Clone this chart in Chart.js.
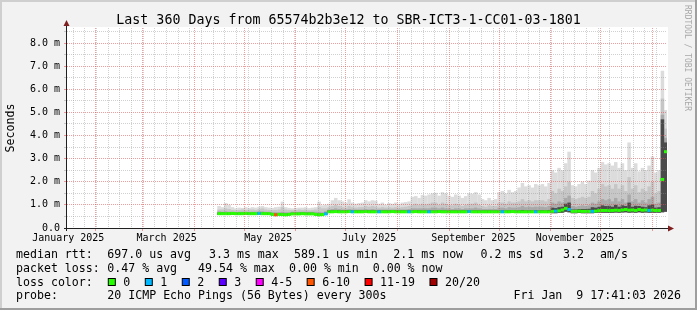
<!DOCTYPE html>
<html><head><meta charset="utf-8">
<script src="https://cdn.jsdelivr.net/npm/chart.js@4.4.1/dist/chart.umd.min.js"></script>
<style>html,body{margin:0;padding:0;background:#f2f2f2;}canvas{display:block;}</style>
</head><body>
<canvas id="c" width="697" height="310"></canvas>
<script>
// ---------- data ----------
const firstDay = 105;   // day-of-year 2025 of first rrd step
const stepDays = 2;     // rrd step (days)
const rangeStart = 13.737, rangeEnd = 373.737; // 360 days ending Jan 9 2026 17:41

const median = [0.62,0.62,0.62,0.62,0.63,0.62,0.62,0.62,0.63,0.62,
 0.62,0.62,0.63,0.62,0.62,0.62,0.59,0.57,0.59,0.58,
 0.57,0.59,0.61,0.61,0.61,0.62,0.61,0.61,0.61,0.59,
 0.57,0.58,0.61,0.70,0.70,0.71,0.70,0.70,0.70,0.71,
 0.70,0.70,0.70,0.70,0.71,0.70,0.70,0.70,0.70,0.70,
 0.70,0.70,0.71,0.70,0.70,0.70,0.70,0.70,0.70,0.71,
 0.70,0.70,0.70,0.70,0.70,0.70,0.71,0.70,0.70,0.70,
 0.70,0.70,0.70,0.70,0.70,0.71,0.70,0.70,0.70,0.70,
 0.70,0.70,0.70,0.70,0.70,0.70,0.70,0.70,0.71,0.70,
 0.70,0.70,0.70,0.70,0.70,0.70,0.70,0.70,0.70,0.70,
 0.72,0.73,0.74,0.78,0.85,0.80,0.72,0.72,0.73,0.72,
 0.72,0.72,0.72,0.73,0.75,0.76,0.76,0.75,0.76,0.77,
 0.76,0.78,0.80,0.77,0.78,0.76,0.80,0.77,0.78,0.76,
 0.77,0.76,0.76,2.10,3.30];

const lostPings = [0,0,0,0,0,0,0,0,0,0,
 0,0,1,0,0,0,0,8,0,0,
 0,0,0,0,0,0,0,0,0,0,
 0,0,1,0,0,0,0,0,0,0,
 1,0,0,0,0,0,0,0,1,0,
 0,0,0,0,0,0,0,1,0,0,
 0,0,0,1,0,0,0,0,0,0,
 0,0,0,0,0,1,0,0,0,0,
 0,0,0,0,0,1,0,0,0,0,
 0,0,0,0,0,1,0,0,0,0,
 0,1,0,0,0,1,0,0,0,0,
 0,0,1,0,0,0,0,0,0,0,
 0,0,0,0,0,0,0,0,0,1,
 0,0,0,0,0];

const smokeLow = [0.57,0.58,0.57,0.57,0.58,0.57,0.57,0.57,0.58,0.57,
 0.57,0.57,0.59,0.58,0.57,0.57,0.55,0.53,0.55,0.54,
 0.53,0.55,0.57,0.57,0.57,0.58,0.57,0.57,0.57,0.55,
 0.53,0.54,0.57,0.66,0.66,0.67,0.66,0.66,0.66,0.67,
 0.66,0.66,0.66,0.66,0.67,0.66,0.66,0.66,0.66,0.66,
 0.66,0.66,0.67,0.66,0.66,0.66,0.66,0.66,0.66,0.67,
 0.66,0.66,0.66,0.66,0.66,0.66,0.67,0.66,0.66,0.66,
 0.66,0.66,0.66,0.66,0.66,0.67,0.66,0.66,0.66,0.66,
 0.66,0.66,0.66,0.66,0.66,0.66,0.66,0.66,0.67,0.66,
 0.66,0.66,0.66,0.66,0.66,0.66,0.66,0.66,0.66,0.66,
 0.64,0.64,0.65,0.66,0.70,0.68,0.64,0.64,0.65,0.64,
 0.64,0.64,0.64,0.65,0.66,0.66,0.66,0.65,0.66,0.67,
 0.66,0.67,0.68,0.66,0.67,0.66,0.68,0.66,0.67,0.66,
 0.66,0.66,0.66,0.68,0.70];

const smokeMax = [0.95,0.90,1.08,1.00,0.90,0.85,0.88,0.87,0.90,0.87,
 0.90,0.88,0.92,0.95,0.90,0.88,0.87,0.90,0.92,1.14,
 0.90,0.87,0.85,0.87,0.88,0.88,0.90,0.86,0.88,0.90,
 1.14,0.98,1.00,1.05,1.20,1.30,1.20,1.15,1.10,1.24,
 1.10,1.05,1.08,1.10,1.20,1.15,1.20,1.18,1.05,1.10,
 1.00,1.08,1.05,1.10,1.05,1.10,1.12,1.15,1.35,1.38,
 1.30,1.43,1.40,1.45,1.50,1.52,1.40,1.55,1.50,1.40,
 1.35,1.45,1.40,1.30,1.38,1.50,1.48,1.55,1.45,1.25,
 1.20,1.30,1.20,1.25,1.55,1.60,1.50,1.65,1.55,1.60,
 1.75,1.95,1.80,1.85,1.75,1.90,1.85,1.90,1.80,1.95,
 2.50,2.40,2.60,2.50,2.80,3.30,1.85,1.80,1.90,2.00,
 1.90,2.05,2.50,2.40,2.60,2.85,2.75,2.80,2.70,2.85,
 2.60,2.80,2.50,3.70,2.60,2.80,2.45,2.60,2.50,2.70,
 3.10,2.40,2.50,6.80,5.10];

const smokeMid = [0.80,0.80,0.85,0.82,0.78,0.77,0.78,0.80,0.78,0.80,
 0.80,0.78,0.82,0.85,0.80,0.78,0.77,0.78,0.80,0.90,
 0.80,0.78,0.77,0.78,0.80,0.78,0.80,0.77,0.78,0.80,
 0.90,0.85,0.85,0.90,0.95,1.00,0.95,0.90,0.88,0.95,
 0.90,0.88,0.90,0.90,0.95,0.92,0.95,0.92,0.88,0.90,
 0.88,0.90,0.88,0.90,0.88,0.90,0.92,0.95,1.00,1.05,
 1.00,1.05,1.02,1.05,1.10,1.10,1.00,1.10,1.05,1.00,
 0.98,1.05,1.00,0.95,1.00,1.05,1.05,1.10,1.00,0.95,
 0.92,0.98,0.95,0.95,1.10,1.10,1.05,1.15,1.10,1.10,
 1.15,1.25,1.15,1.20,1.15,1.20,1.20,1.20,1.15,1.25,
 1.60,1.50,1.70,1.60,1.80,2.00,1.30,1.25,1.30,1.35,
 1.30,1.35,1.60,1.50,1.70,1.90,1.80,1.85,1.70,1.90,
 1.70,1.85,1.60,2.20,1.70,1.85,1.55,1.70,1.60,1.80,
 2.00,1.50,1.60,5.60,4.30];

const smokeInner = [0.72,0.70,0.72,0.70,0.70,0.69,0.70,0.70,0.70,0.70,
 0.70,0.70,0.72,0.72,0.70,0.70,0.68,0.68,0.68,0.70,
 0.68,0.68,0.70,0.70,0.70,0.70,0.70,0.70,0.70,0.70,
 0.70,0.68,0.72,0.80,0.82,0.85,0.82,0.80,0.80,0.82,
 0.80,0.80,0.80,0.80,0.82,0.80,0.82,0.80,0.80,0.80,
 0.80,0.80,0.80,0.80,0.80,0.80,0.80,0.82,0.85,0.85,
 0.85,0.85,0.85,0.85,0.88,0.88,0.85,0.88,0.85,0.85,
 0.82,0.85,0.85,0.82,0.85,0.85,0.85,0.88,0.85,0.82,
 0.82,0.83,0.82,0.82,0.88,0.88,0.85,0.90,0.88,0.88,
 0.90,0.95,0.90,0.92,0.90,0.92,0.92,0.92,0.90,0.95,
 1.10,1.05,1.15,1.10,1.30,1.40,0.95,0.92,0.95,0.98,
 0.95,0.98,1.10,1.05,1.15,1.25,1.20,1.25,1.15,1.30,
 1.15,1.25,1.10,1.45,1.15,1.25,1.10,1.20,1.10,1.25,
 1.35,1.05,1.10,4.90,3.90];

const smokeCore = [0.66,0.67,0.66,0.66,0.67,0.66,0.66,0.66,0.67,0.66,
 0.66,0.66,0.68,0.67,0.66,0.66,0.64,0.62,0.64,0.63,
 0.62,0.64,0.66,0.66,0.66,0.67,0.66,0.66,0.66,0.64,
 0.62,0.63,0.66,0.76,0.76,0.77,0.76,0.76,0.76,0.77,
 0.76,0.76,0.76,0.76,0.77,0.76,0.76,0.76,0.76,0.76,
 0.76,0.76,0.77,0.76,0.76,0.76,0.76,0.76,0.76,0.77,
 0.76,0.76,0.76,0.76,0.76,0.76,0.77,0.76,0.76,0.76,
 0.76,0.76,0.76,0.76,0.76,0.77,0.76,0.76,0.76,0.76,
 0.76,0.76,0.76,0.76,0.76,0.76,0.76,0.76,0.77,0.76,
 0.76,0.78,0.76,0.77,0.76,0.77,0.77,0.77,0.76,0.78,
 0.88,0.86,0.90,0.92,1.05,1.10,0.80,0.80,0.82,0.82,
 0.82,0.83,0.90,0.88,0.92,0.98,0.95,0.96,0.92,1.00,
 0.92,0.98,0.95,1.10,0.92,0.96,0.95,0.92,0.90,0.98,
 1.02,0.88,0.90,4.70,3.70];

// axis ticks / labels
const monthStarts = [31,59,90,120,151,181,212,243,273,304,334,365];
const monthLabelDays = [14.5,73.5,134.5,195,257.5,318.5];
const monthLabels = ['January 2025','March 2025','May 2025','July 2025','September 2025','November 2025'];
const weekStart = 17.5;
const yTickValues = [0,0.5,1,1.5,2,2.5,3,3.5,4,4.5,5,5.5,6,6.5,7,7.5,8,8.5];
const yTickLabels = ['0.0','','1.0 m','','2.0 m','','3.0 m','','4.0 m','','5.0 m','','6.0 m','','7.0 m','','8.0 m',''];

// loss colour classes: [max lost pings, label, colour]
const lossClasses = [[0,'0','#26ff00'],[1,'1','#00b8ff'],[2,'2','#0059ff'],[3,'3','#5e00ff'],
 [5,'4-5','#ff00ff'],[10,'6-10','#ff5500'],[19,'11-19','#ff0000'],[20,'20/20','#a10000']];

const titleText = 'Last 360 Days from 65574b2b3e12 to SBR-ICT3-1-CC01-03-1801';
const legendLines = [
  [['median rtt:',16],['697.0 us avg',107.3],['3.3 ms max',209],['589.1 us min',294],['2.1 ms now',393.3],['0.2 ms sd',480.5],['3.2',563],['am/s',600]],
  [['packet loss:',16],['0.47 % avg',107.3],['49.54 % max',198],['0.00 % min',289],['0.00 % now',372.7]],
  [['loss color:',16]],
  [['probe:',16],['20 ICMP Echo Pings (56 Bytes) every 300s',107.3]]
];
const stampText = 'Fri Jan  9 17:41:03 2026';
const sideText = 'RRDTOOL / TOBI OETIKER';

// ---------- style ----------
const FONT = '"DejaVu Sans Mono", monospace';
const BACK = '#f2f2f2', GRID = 'rgba(143,143,143,0.42)', MGRID = 'rgba(222,79,79,0.55)';
const AXIS = '#202020', ARROW = '#801f1f';
const LINE_HALF = 0.065; // half-thickness of median line in ms (~1.5px)

function lossColor(n){ for (const c of lossClasses) if (n <= c[0]) return c[2]; return lossClasses[lossClasses.length-1][2]; }
const xOf = i => firstDay + stepDays*i;
function band(lo, hi){ return hi.map((v,i)=>({x:xOf(i), y:[lo[i], v]})); }

const xTicks = [];
monthStarts.forEach(v=>xTicks.push({value:v, kind:'month'}));
for (let w = weekStart; w < rangeEnd; w += 7) xTicks.push({value:w, kind:'week'});
monthLabelDays.forEach((v,i)=>xTicks.push({value:v, kind:'label', text:monthLabels[i]}));
xTicks.sort((a,b)=>a.value-b.value);

Chart.defaults.font.family = FONT;
Chart.defaults.color = '#000';

const barCommon = {grouped:false, barThickness:3.5, borderWidth:0, inflateAmount:0};

const rrdPlugin = {
  id:'rrd',
  beforeDraw(chart){
    const c = chart.ctx, a = chart.chartArea;
    c.save();
    c.fillStyle = BACK; c.fillRect(0,0,chart.width,chart.height);
    c.fillStyle = '#ffffff'; c.fillRect(a.left, a.top-1, a.right-a.left+1, a.bottom-a.top+1);
    c.restore();
  },
  afterDraw(chart){
    const c = chart.ctx, a = chart.chartArea;
    c.save();
    // axes
    c.strokeStyle = AXIS; c.lineWidth = 1;
    c.beginPath(); c.moveTo(a.left-3, a.bottom+0.5); c.lineTo(a.right+4, a.bottom+0.5); c.stroke();
    c.beginPath(); c.moveTo(a.left-0.5, a.bottom+3); c.lineTo(a.left-0.5, a.top-4); c.stroke();
    c.fillStyle = ARROW;
    c.beginPath(); c.moveTo(a.right+1, a.bottom-2.5); c.lineTo(a.right+7, a.bottom+0.5); c.lineTo(a.right+1, a.bottom+3.5); c.closePath(); c.fill();
    c.beginPath(); c.moveTo(a.left-3.5, a.top-2); c.lineTo(a.left-0.5, a.top-8); c.lineTo(a.left+2.5, a.top-2); c.closePath(); c.fill();
    // title
    c.fillStyle = '#000';
    c.font = '13.3px ' + FONT; c.textAlign = 'center'; c.textBaseline = 'alphabetic';
    c.fillText(titleText, chart.width/2, 24);
    // legend
    c.font = '11.6px ' + FONT; c.textAlign = 'left';
    const base = [257.5, 271.5, 285.6, 299.3];
    legendLines.forEach((segs, li)=>segs.forEach(([t,x])=>c.fillText(t, x, base[li])));
    let sx = 108.3;
    lossClasses.forEach(([mx,label,col])=>{
      c.fillStyle = col; c.fillRect(sx, 278.5, 7, 7);
      c.strokeStyle = '#000'; c.lineWidth = 1; c.strokeRect(sx, 278.5, 7, 7);
      c.fillStyle = '#000'; c.fillText(label, sx+15, base[2]);
      sx += 15 + c.measureText(label).width + 15;
    });
    c.textAlign = 'right';
    c.fillText(stampText, 681, base[3]);
    // side text
    c.save();
    c.translate(687.5, 5); c.rotate(Math.PI/2);
    c.font = '8px ' + FONT; c.fillStyle = '#a8a8a8'; c.textAlign = 'left'; c.textBaseline = 'middle';
    c.fillText(sideText, 0, 0);
    c.restore();
    // frame
    c.fillStyle = '#cfcfcf'; c.fillRect(0,0,chart.width,2); c.fillRect(0,0,2,chart.height);
    c.fillStyle = '#9e9e9e'; c.fillRect(0,chart.height-2,chart.width,2); c.fillRect(chart.width-2,0,2,chart.height);
    c.restore();
  }
};

new Chart(document.getElementById('c'), {
  type:'bar',
  data:{datasets:[
    {...barCommon, label:'median', order:0,
     data: median.map((v,i)=>({x:xOf(i), y:[v-LINE_HALF, v+LINE_HALF]})),
     backgroundColor: lostPings.map(lossColor)},
    {...barCommon, label:'core', order:1, data: band(smokeLow, smokeCore), backgroundColor:'#4a4a4a'},
    {...barCommon, label:'inner', order:2, data: band(smokeLow, smokeInner), backgroundColor:'#a9a9a9'},
    {...barCommon, label:'mid', order:3, data: band(smokeLow, smokeMid), backgroundColor:'#c6c6c6'},
    {...barCommon, label:'max', order:4, data: band(smokeLow, smokeMax), backgroundColor:'#dcdcdc'}
  ]},
  options:{
    responsive:false, animation:false, devicePixelRatio:1,
    layout:{padding:{top:28, left:0, right:30, bottom:0}},
    plugins:{legend:{display:false}, tooltip:{enabled:false}, title:{display:false}},
    scales:{
      x:{type:'linear', min:rangeStart, max:rangeEnd, offset:false, bounds:'data',
         afterBuildTicks: s => { s.ticks = xTicks.map(t=>({...t})); },
         afterFit: s => { s.height = 82; },
         border:{display:false, dash:[1,1]},
         grid:{offset:false, z:1, lineWidth:1, tickLength:3, drawTicks:true,
               color: ctx => !ctx.tick ? 'rgba(0,0,0,0)' : ctx.tick.kind==='month' ? MGRID : ctx.tick.kind==='week' ? GRID : 'rgba(0,0,0,0)',
               tickColor: ctx => ctx.tick && ctx.tick.kind==='month' ? MGRID : 'rgba(0,0,0,0)'},
         ticks:{autoSkip:false, maxRotation:0, minRotation:0, padding:1, font:{size:10}, color:'#000',
                callback:(v,i,ticks)=> ticks[i].kind==='label' ? ticks[i].text : ''}
      },
      y:{type:'linear', min:0, max:8.65, bounds:'data',
         afterBuildTicks: s => { s.ticks = yTickValues.map(v=>({value:v})); },
         afterFit: s => { s.width = 67; },
         border:{display:false, dash:[1,1]},
         grid:{z:1, lineWidth:1, tickLength:3,
               color: ctx => ctx.tick && Number.isInteger(ctx.tick.value) ? MGRID : GRID,
               tickColor: ctx => ctx.tick && Number.isInteger(ctx.tick.value) ? MGRID : GRID},
         ticks:{autoSkip:false, padding:4, font:{size:10}, color:'#000',
                callback:(v,i)=> yTickLabels[i]},
         title:{display:true, text:'Seconds', font:{size:11.6}, color:'#000', padding:{top:4,bottom:0}}
      }
    }
  },
  plugins:[rrdPlugin]
});
</script>
</body></html>
